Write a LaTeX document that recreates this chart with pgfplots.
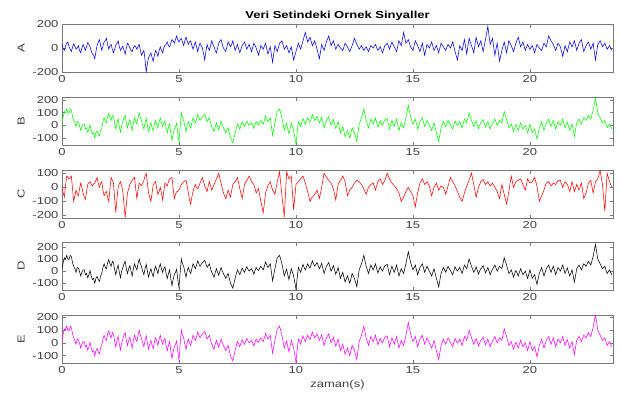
\documentclass[border=0pt]{standalone}
\usepackage{pgfplots}
\pgfplotsset{compat=1.18}
\usepackage{pgfplotstable}
\usepackage{fontspec}
\setmainfont{Liberation Sans}[FakeStretch=1.28]
\newcommand\fsz{\fontsize{10.2}{12}\selectfont}
\definecolor{axgray}{RGB}{120,120,120}
\definecolor{txtgray}{RGB}{64,64,64}

% samples every 0.05 s
\pgfplotstableread{
A B C
30 20 0
-5 70 -40
-20 110 -70
15 100 10
40 130 80
50 100 75
10 95 60
-10 130 70
-30 120 80
5 70 -10
35 40 -100
15 20 -60
-10 -10 -20
0 30 -45
20 25 -60
-20 -5 -10
-40 -40 30
0 -10 0
30 10 -40
5 10 -70
-20 -30 -85
10 -20 -30
45 -55 20
30 -30 35
10 5 40
-25 -40 20
-50 -70 10
-60 -60 25
-90 -100 30
-30 -60 50
20 -45 70
50 -70 30
70 -85 0
20 -40 25
-20 -20 40
20 30 -20
50 60 -60
60 30 -40
80 20 -30
30 70 -70
-10 95 -100
20 60 -10
30 40 70
-10 80 50
-40 70 30
-10 10 -80
25 -30 -180
40 20 -80
60 50 0
10 -10 25
-20 -55 40
0 0 10
15 30 -30
-20 60 -120
-50 80 -215
0 20 -120
40 -20 -40
25 20 -10
0 45 20
-20 0 35
-30 -40 50
0 20 60
20 60 70
10 30 -10
-10 10 -80
15 60 -20
30 100 30
-20 60 20
-60 35 10
-40 0 30
-20 -30 50
-100 20 80
-200 55 100
-130 0 30
-80 -50 -40
-60 -10 -70
-40 20 -100
-80 -20 -40
-110 -45 20
-60 10 30
-20 40 40
-40 10 -10
-70 -20 -50
-20 30 -30
10 60 0
-20 20 -40
-40 -10 -90
0 20 -30
20 35 30
30 -20 20
50 -60 10
20 -20 40
10 10 60
40 -60 65
70 -120 70
60 -70 -10
40 -30 -80
70 -10 -50
100 15 -30
70 -70 -30
50 -135 -20
70 -10 0
80 100 20
50 60 30
20 40 40
60 -10 45
90 -50 50
60 0 10
30 30 -40
50 0 -90
60 -20 -120
20 20 -70
-10 60 -30
20 40 0
50 20 20
10 50 0
-30 85 -10
10 60 10
40 40 30
20 55 50
0 70 70
-50 80 40
-100 90 10
-30 60 -10
30 30 -30
0 45 10
-20 60 40
20 20 10
60 -10 -20
30 -30 0
10 -50 20
-20 -10 40
-40 20 60
0 -10 80
40 -35 100
60 0 60
70 30 30
30 0 -10
0 -20 -40
-15 -40 -60
-30 -60 -80
10 -40 -50
50 -20 -20
30 -60 -45
10 -100 -70
30 -120 -25
60 -140 20
20 -100 30
-20 -60 40
5 -20 55
30 10 70
-10 -10 30
-40 -30 -10
-10 0 -45
20 25 -80
35 5 -30
50 -10 20
20 15 35
-10 35 50
10 15 65
30 0 80
0 10 60
-30 20 40
5 0 30
40 -25 20
20 5 -10
0 30 -40
-30 15 -25
-60 5 -10
-20 25 -55
20 40 -100
5 25 -140
-10 10 -180
15 40 -110
40 75 -40
-5 50 -15
-50 30 10
-20 45 25
10 60 40
-55 -10 10
-120 -80 -20
-50 -30 -35
20 20 -50
-5 65 -5
-30 110 40
5 120 75
40 130 110
50 95 25
60 60 -60
25 10 -135
-10 -40 -210
5 -10 -50
20 15 110
-10 -30 85
-40 -70 60
-15 -25 70
10 20 80
-45 -10 -40
-100 -40 -160
-65 -95 -70
-30 -150 20
5 -60 30
40 30 40
15 10 50
-10 -10 60
25 25 70
60 55 80
95 30 55
130 10 30
90 35 0
50 60 -30
70 40 -65
90 25 -100
55 55 -85
20 85 -70
40 60 -60
60 40 -50
25 55 -35
-10 70 -20
-50 45 -50
-90 20 -80
-30 40 -40
30 65 0
5 20 50
-20 -20 100
15 10 85
50 40 70
75 55 60
100 70 50
60 35 40
20 0 30
40 20 10
60 45 -10
25 10 -50
-10 -25 -90
10 0 -35
30 30 20
15 -15 35
0 -60 50
-10 -35 65
-20 -10 80
10 -50 60
40 -90 40
25 -65 -10
10 -40 -60
-10 -70 -40
-30 -100 -20
-5 -60 -10
20 -20 0
50 -40 15
80 -60 30
55 -95 40
30 -130 50
10 -60 45
-10 10 40
5 35 30
20 60 20
0 95 5
-20 130 -10
-5 85 -30
10 40 -50
-10 10 -25
-30 -20 0
-5 15 10
20 50 20
10 30 25
0 10 30
15 35 5
30 60 -20
5 20 10
-20 -15 40
-5 10 50
10 35 60
-15 15 40
-40 0 20
-10 25 35
20 45 50
30 50 75
40 55 100
15 10 80
-10 -30 60
20 5 45
50 40 30
30 15 20
10 -10 10
-10 20 0
-30 50 -10
15 5 -25
60 -40 -40
40 -10 -70
20 20 -100
75 0 -85
130 -20 -70
85 20 -50
40 60 -30
55 110 -15
70 160 0
40 115 -15
10 70 -30
-5 40 -45
-20 10 -60
20 30 -100
60 50 -140
40 10 -90
20 -30 -40
-5 0 -5
-30 30 30
5 45 45
40 60 60
-10 25 40
-60 -10 20
-15 15 30
30 40 40
15 20 25
0 0 10
25 -20 -25
50 -40 -60
15 -10 -30
-20 20 0
0 -20 15
20 -60 30
-10 -95 5
-40 -130 -20
0 -75 -5
40 -20 10
25 5 5
10 30 0
-5 10 -25
-20 -10 -50
5 15 -20
30 40 10
15 20 40
0 5 70
25 -15 55
50 -30 40
10 5 25
-30 35 10
-65 15 -10
-100 0 -30
-40 15 -50
20 30 -70
0 5 -85
-20 -20 -100
25 15 -70
70 50 -40
10 35 -15
-50 20 10
15 60 30
80 100 50
50 70 75
20 40 100
-10 15 60
-40 -10 20
25 10 -25
90 35 -70
50 5 -35
10 -25 0
35 0 20
60 20 40
15 30 50
-30 45 55
20 15 35
70 -15 20
125 5 30
180 30 40
105 0 25
30 -30 10
55 -5 20
80 15 30
10 30 15
-60 50 0
-10 25 -15
40 0 -30
-35 20 -55
-110 40 -80
-65 30 -30
-20 20 20
15 65 -15
50 110 -50
5 80 -85
-40 50 -120
10 15 -75
60 -20 -30
40 -5 25
20 10 80
-5 -20 40
-30 -50 0
5 -20 20
40 5 40
65 -15 45
90 -40 50
50 -10 55
10 20 60
30 -5 40
50 -30 20
15 -15 0
-20 0 -20
5 -30 20
30 -60 60
10 -25 45
-10 10 30
5 -25 35
20 -60 40
-10 -45 55
-40 -30 70
-5 -70 40
30 -110 10
15 -65 -45
0 -20 -100
-10 5 -80
-20 30 -60
10 -5 -40
40 -40 -20
25 -10 5
10 20 30
55 35 35
100 50 40
80 20 25
60 -10 10
45 15 20
30 40 30
5 5 25
-20 -30 20
10 0 35
40 30 50
25 15 50
10 0 50
-30 25 25
-70 50 0
-25 15 20
20 -20 40
-5 5 30
-30 25 20
10 -10 -5
50 -40 -30
30 -15 5
10 10 40
35 -40 5
60 -90 -30
20 -35 -5
-20 20 20
10 35 0
40 50 -20
55 30 5
70 10 30
20 35 -25
-30 60 -80
-5 50 -60
20 40 -40
35 60 -5
50 80 30
20 65 40
-10 50 50
15 85 5
40 120 -40
-30 170 0
-100 220 40
-35 160 50
30 100 60
45 80 90
60 60 120
35 40 70
10 20 20
25 30 -75
40 40 -170
15 10 -35
-10 -20 100
5 -5 70
20 10 40
0 -10 20
-20 -30 0
}\data

\pgfplotsset{
  sig/.style={
    scale only axis, width=551bp, height=48bp, anchor=north west,
    xmin=0, xmax=23.55, xtick={0,5,10,15,20},
    tick align=inside, major tick length=3.5bp,
    axis line style={axgray, line width=0.6pt},
    tick style={axgray, line width=0.6pt},
    tick label style={text=txtgray, font=\fsz},
    label style={text=txtgray, font=\fsz},
    /pgf/number format/assume math mode=true,
    ylabel style={at={(axis description cs:-0.0744,0.5)}, anchor=center},
    clip=true,
  },
  sigline/.style={line width=0.55pt, mark=none},
}

\begin{document}
\begin{tikzpicture}
\path[use as bounding box] (0,0) rectangle (620bp,-396bp);

\begin{axis}[sig, at={(62bp,-24bp)}, ymin=-200, ymax=200, ytick={-200,0,200}, ylabel={A},
  title={Veri Setindeki Ornek Sinyaller}, every axis title shift=0pt,
  every axis title/.style={at={(axis description cs:0.5,1)}, anchor=base, yshift=5.7bp, font=\fsz\bfseries, text=black, inner sep=0pt}]
\addplot[sigline, color={rgb,255:red,0;green,0;blue,255}] table[x expr=\coordindex*0.05, y=A] {\data};
\end{axis}

\begin{axis}[sig, at={(62bp,-97bp)}, ymin=-157, ymax=226, ytick={-100,0,100,200}, ylabel={B}]
\addplot[sigline, color={rgb,255:red,0;green,255;blue,0}] table[x expr=\coordindex*0.05, y=B] {\data};
\end{axis}

\begin{axis}[sig, at={(62bp,-170bp)}, ymin=-218, ymax=123, ytick={-200,-100,0,100}, ylabel={C}]
\addplot[sigline, color={rgb,255:red,255;green,0;blue,0}] table[x expr=\coordindex*0.05, y=C] {\data};
\end{axis}

\begin{axis}[sig, at={(62bp,-242bp)}, ymin=-156, ymax=240, ytick={-100,0,100,200}, ylabel={D}]
\addplot[sigline, color=black] table[x expr=\coordindex*0.05, y=B] {\data};
\end{axis}

\begin{axis}[sig, at={(62bp,-315bp)}, ymin=-157, ymax=218, ytick={-100,0,100,200}, ylabel={E}, xlabel={zaman(s)}]
\addplot[sigline, color={rgb,255:red,255;green,0;blue,255}] table[x expr=\coordindex*0.05, y=B] {\data};
\end{axis}
\end{tikzpicture}
\end{document}
